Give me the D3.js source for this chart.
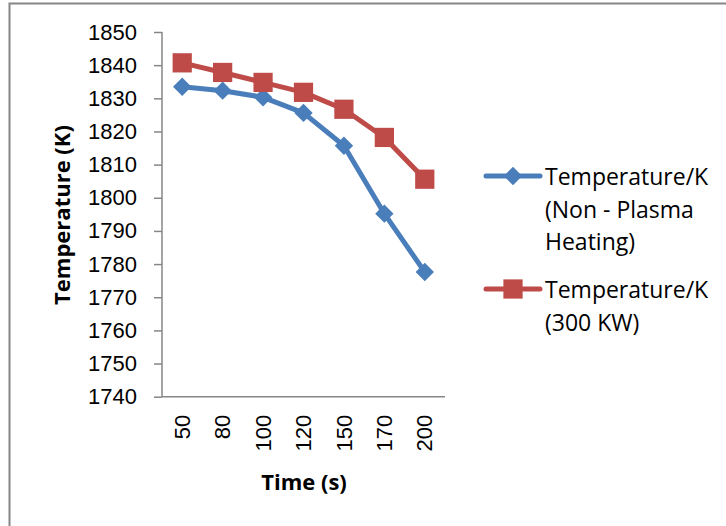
<!DOCTYPE html>
<html>
<head>
<meta charset="utf-8">
<script src="https://cdn.jsdelivr.net/npm/d3@7"></script>
<style>
body { margin: 0; background: #fff; }
svg { display: block; font-family: 'Open Sans', sans-serif; }
</style>
</head>
<body>
<svg id="chart" width="726" height="526"></svg>
<script>
var times = ['50', '80', '100', '120', '150', '170', '200']
var nonPlasma = [1833.5, 1832.3, 1830.3, 1825.6, 1815.7, 1795.2, 1777.6]
var plasma300 = [1840.7, 1837.8, 1834.8, 1831.8, 1826.7, 1818.2, 1805.6]
var yTicks = d3.range(1740, 1851, 10)
var seriesNames = [['Temperature/K', '(Non - Plasma', 'Heating)'], ['Temperature/K', '(300 KW)']]

var blue = '#4A7EBB', red = '#BE4B48'
var svg = d3.select('#chart')

// outer chart border (right/bottom fall off the canvas)
svg.append('rect').attr('x', 9.5).attr('y', 3.5).attr('width', 760).attr('height', 560)
    .style('fill', 'none').style('stroke', '#868686').style('stroke-width', 2)

var xs = d3.scaleBand().domain(times).range([162, 445])
var ys = d3.scaleLinear().domain([1740, 1850]).range([396.7, 32])

var yAxis = svg.append('g').attr('transform', 'translate(162,0)')
    .call(d3.axisLeft(ys).tickValues(yTicks).tickSize(8).tickPadding(17).tickFormat(d3.format('d')))
yAxis.selectAll('text').style('font-size', '22px').style('fill', '#000')
yAxis.selectAll('line, path').style('stroke', '#868686').style('stroke-width', 1.5)
yAxis.select('path').attr('d', 'M0,32V396.7')

var xAxis = svg.append('g').attr('transform', 'translate(0,396.7)')
    .call(d3.axisBottom(xs).tickSize(0).tickPadding(0))
xAxis.select('path').attr('d', 'M162,0H445').style('stroke', '#868686').style('stroke-width', 1.5)
xAxis.selectAll('text')
    .attr('transform', 'rotate(-90)')
    .attr('x', -18).attr('y', 0).attr('dy', '0.35em')
    .style('text-anchor', 'end').style('font-size', '22px').style('fill', '#000')

svg.append('text').attr('x', 304).attr('y', 490).attr('text-anchor', 'middle')
    .style('font-size', '22px').style('font-weight', 'bold').text('Time (s)')
svg.append('text').attr('transform', 'translate(70,215) rotate(-90)').attr('text-anchor', 'middle')
    .style('font-size', '22px').style('font-weight', 'bold').text('Temperature (K)')

var cx = d => xs(d) + xs.bandwidth() / 2
var line = d3.line().x((d, i) => cx(times[i])).y(d => ys(d))

var diamond = d3.symbol().type(d3.symbolDiamond2).size(215)()
var square = d3.symbol().type(d3.symbolSquare).size(370)()

svg.append('path').attr('d', line(nonPlasma)).style('fill', 'none').style('stroke', blue)
    .style('stroke-width', 5).style('stroke-linejoin', 'round')
svg.append('path').attr('d', line(plasma300)).style('fill', 'none').style('stroke', red)
    .style('stroke-width', 5).style('stroke-linejoin', 'round')

svg.selectAll('.d').data(nonPlasma).enter().append('path')
    .attr('d', diamond).attr('transform', (d, i) => `translate(${cx(times[i])},${ys(d)})`)
    .style('fill', blue)
svg.selectAll('.s').data(plasma300).enter().append('path')
    .attr('d', square).attr('transform', (d, i) => `translate(${cx(times[i])},${ys(d)})`)
    .style('fill', red)

// legend
var legend = [{ c: blue, sym: diamond, y: 176, lines: seriesNames[0] }, { c: red, sym: square, y: 289, lines: seriesNames[1] }]
legend.forEach(l => {
    svg.append('line').attr('x1', 486).attr('x2', 540).attr('y1', l.y).attr('y2', l.y)
        .style('stroke', l.c).style('stroke-width', 5).style('stroke-linecap', 'round')
    svg.append('path').attr('d', l.sym).attr('transform', `translate(513,${l.y})`).style('fill', l.c)
    l.lines.forEach((t, i) => {
        svg.append('text').attr('x', 545).attr('y', l.y + 9 + i * 32.5)
            .style('font-size', '23px').text(t)
    })
})
</script>
</body>
</html>
